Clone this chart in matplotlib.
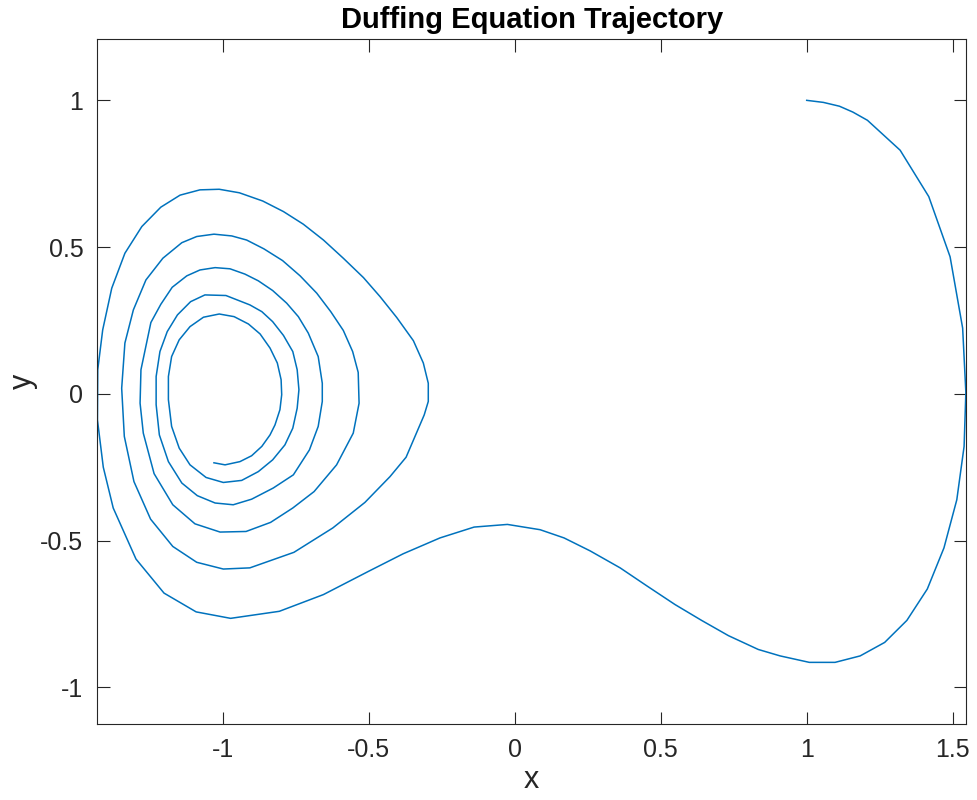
import matplotlib
matplotlib.use("Agg")
import matplotlib.pyplot as plt

# trajectory vertices (x, y)
x = [1.000, 1.057, 1.112, 1.158, 1.208, 1.320, 1.418, 1.491, 1.534, 1.545,
     1.539, 1.514, 1.470, 1.413, 1.343, 1.267, 1.183, 1.097, 1.009, 0.909,
     0.834, 0.732, 0.640, 0.549, 0.452, 0.361, 0.258, 0.169, 0.087, -0.025,
     -0.139, -0.256, -0.382, -0.501, -0.655, -0.806, -0.973, -1.091, -1.201, -1.297,
     -1.375, -1.409, -1.429, -1.428, -1.411, -1.380, -1.335, -1.277, -1.212, -1.146,
     -1.078, -1.012, -0.943, -0.863, -0.792, -0.724, -0.655, -0.587, -0.518, -0.461,
     -0.404, -0.347, -0.313, -0.296, -0.296, -0.310, -0.372, -0.427, -0.513, -0.623,
     -0.756, -0.907, -0.998, -1.089, -1.171, -1.247, -1.304, -1.337, -1.346, -1.335,
     -1.306, -1.263, -1.205, -1.140, -1.089, -1.030, -0.969, -0.918, -0.859, -0.795,
     -0.735, -0.678, -0.630, -0.587, -0.555, -0.536, -0.533, -0.553, -0.610, -0.687,
     -0.760, -0.836, -0.920, -1.009, -1.095, -1.171, -1.235, -1.272, -1.283, -1.280,
     -1.246, -1.212, -1.173, -1.123, -1.078, -1.026, -0.975, -0.924, -0.878, -0.829,
     -0.781, -0.741, -0.707, -0.673, -0.659, -0.659, -0.673, -0.703, -0.758, -0.827,
     -0.901, -0.964, -1.026, -1.087, -1.140, -1.186, -1.217, -1.228, -1.228, -1.215,
     -1.190, -1.155, -1.110, -1.061, -0.989, -0.907, -0.866, -0.829, -0.792, -0.760,
     -0.745, -0.739, -0.745, -0.760, -0.787, -0.829, -0.878, -0.935, -0.998, -1.057,
     -1.112, -1.149, -1.175, -1.186, -1.186, -1.175, -1.149, -1.112, -1.066, -1.012,
     -0.961, -0.912, -0.872, -0.838, -0.813, -0.800, -0.798, -0.804, -0.821, -0.838,
     -0.866, -0.901, -0.941, -0.992, -1.030]
y = [1.000, 0.993, 0.980, 0.960, 0.932, 0.830, 0.672, 0.467, 0.224, 0.005,
     -0.179, -0.361, -0.525, -0.665, -0.772, -0.847, -0.893, -0.915, -0.915, -0.893,
     -0.871, -0.824, -0.772, -0.718, -0.654, -0.593, -0.535, -0.491, -0.463, -0.445,
     -0.454, -0.491, -0.545, -0.605, -0.684, -0.741, -0.765, -0.743, -0.679, -0.563,
     -0.389, -0.250, -0.089, 0.082, 0.218, 0.360, 0.479, 0.570, 0.636, 0.677,
     0.695, 0.697, 0.685, 0.657, 0.621, 0.578, 0.524, 0.462, 0.396, 0.331,
     0.260, 0.181, 0.105, 0.036, -0.026, -0.072, -0.216, -0.282, -0.370, -0.457,
     -0.540, -0.593, -0.597, -0.574, -0.520, -0.427, -0.299, -0.145, 0.019, 0.173,
     0.286, 0.388, 0.462, 0.515, 0.536, 0.544, 0.538, 0.524, 0.494, 0.454,
     0.402, 0.343, 0.280, 0.216, 0.144, 0.073, -0.032, -0.134, -0.242, -0.333,
     -0.389, -0.438, -0.469, -0.471, -0.443, -0.378, -0.272, -0.134, -0.032, 0.082,
     0.243, 0.305, 0.363, 0.402, 0.422, 0.430, 0.426, 0.408, 0.385, 0.352,
     0.309, 0.263, 0.207, 0.127, 0.036, -0.026, -0.111, -0.191, -0.276, -0.321,
     -0.359, -0.378, -0.372, -0.347, -0.304, -0.231, -0.140, -0.037, 0.059, 0.144,
     0.212, 0.269, 0.314, 0.337, 0.335, 0.303, 0.280, 0.246, 0.199, 0.144,
     0.082, 0.014, -0.049, -0.117, -0.174, -0.225, -0.265, -0.295, -0.302, -0.285,
     -0.242, -0.185, -0.111, -0.020, 0.059, 0.127, 0.184, 0.229, 0.261, 0.272,
     0.263, 0.238, 0.204, 0.156, 0.105, 0.048, -0.003, -0.054, -0.106, -0.140,
     -0.179, -0.211, -0.231, -0.242, -0.235]

xticks = [-1, -0.5, 0, 0.5, 1, 1.5]
yticks = [-1, -0.5, 0, 0.5, 1]
xlim = (-1.4295, 1.5455)
ylim = (-1.125, 1.209)

plt.rcParams['font.family'] = ['Liberation Sans', 'DejaVu Sans']
axcol = '#262626'

fig = plt.figure(figsize=(9.77, 8.0), dpi=100)
ax = fig.add_axes([97.3 / 977, 1 - 724 / 800, (966 - 97.3) / 977, (724 - 39) / 800])

ax.plot(x, y, color='#0072BD', linewidth=1.1)

ax.set_xlim(*xlim)
ax.set_ylim(*ylim)
ax.set_xticks(xticks)
ax.set_yticks(yticks)
ax.set_xticklabels(['-1', '-0.5', '0', '0.5', '1', '1.5'])
ax.set_yticklabels(['-1', '-0.5', '0', '0.5', '1'])

ax.tick_params(direction='in', length=9, width=0.8, colors=axcol,
               labelsize=18, top=True, right=True, pad=10)
for s in ax.spines.values():
    s.set_color(axcol)
    s.set_linewidth(0.8)

ax.set_xlabel('x', fontsize=22, color=axcol, labelpad=2)
ax.set_ylabel('y', fontsize=22, color=axcol, labelpad=2)
ax.set_title('Duffing Equation Trajectory', fontsize=21, fontweight='bold', pad=8)

fig.savefig('out.png', dpi=100, facecolor='white')
